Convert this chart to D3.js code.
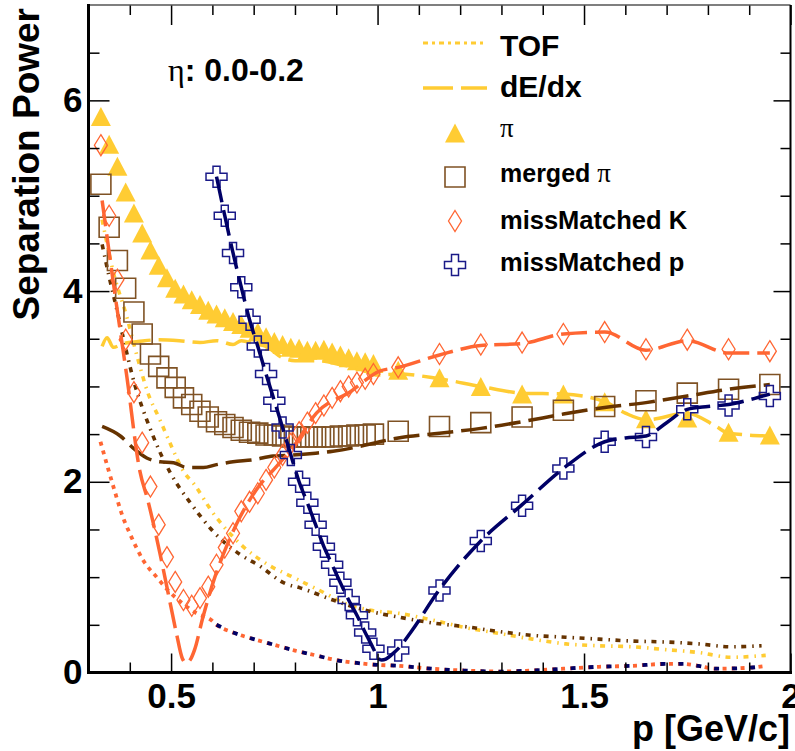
<!DOCTYPE html>
<html><head><meta charset="utf-8">
<script src="https://cdn.jsdelivr.net/npm/d3@7"></script>
<style>body{margin:0;background:#fff}svg{display:block}</style>
</head><body>
<svg id="c" width="795" height="751"></svg>
<script>
// ---------- data ----------
const xMajorTicks = [0.5, 1, 1.5, 2];
const xTickLabels = ["0.5", "1", "1.5", "2"];
const xMinorTicks = [0.4, 0.6, 0.7, 0.8, 0.9, 1.1, 1.2, 1.3, 1.4, 1.6, 1.7, 1.8, 1.9];
const yMajorTicks = [0, 2, 4, 6];
const yTickLabels = ["0", "2", "4", "6"];
const yMinorTicks = [0.5, 1, 1.5, 2.5, 3, 3.5, 4.5, 5, 5.5, 6.5];

// markers: [p, separation]
const piPts = [[0.33,5.83],[0.35,5.54],[0.37,5.31],[0.39,5.04],[0.41,4.82],[0.43,4.61],[0.45,4.43],[0.47,4.27],[0.49,4.14],[0.51,4.03],[0.53,3.97],[0.55,3.91],[0.57,3.86],[0.59,3.80],[0.61,3.76],[0.63,3.72],[0.65,3.68],[0.67,3.65],[0.69,3.61],[0.71,3.57],[0.73,3.52],[0.75,3.47],[0.77,3.44],[0.79,3.41],[0.81,3.40],[0.83,3.38],[0.85,3.38],[0.87,3.39],[0.89,3.36],[0.91,3.33],[0.93,3.30],[0.95,3.27],[0.97,3.26],[0.99,3.24],
  [1.05,3.17],[1.15,3.09],[1.25,3.00],[1.35,2.92],[1.45,2.92],[1.55,2.84],[1.65,2.66],[1.75,2.67],[1.85,2.52],[1.95,2.49]];
const mergedPiPts = [[0.33,5.12],[0.35,4.67],[0.37,4.32],[0.39,4.03],[0.41,3.78],[0.43,3.55],[0.45,3.34],[0.47,3.21],[0.49,3.09],[0.51,2.99],[0.53,2.88],[0.55,2.81],[0.57,2.74],[0.59,2.68],[0.61,2.63],[0.63,2.60],[0.65,2.57],[0.67,2.54],[0.69,2.52],[0.71,2.51],[0.73,2.49],[0.75,2.49],[0.77,2.48],[0.79,2.47],[0.81,2.47],[0.83,2.47],[0.85,2.47],[0.87,2.47],[0.89,2.47],[0.91,2.48],[0.93,2.48],[0.95,2.49],[0.97,2.49],[0.99,2.50],
  [1.05,2.53],[1.15,2.58],[1.25,2.62],[1.35,2.68],[1.45,2.75],[1.55,2.79],[1.65,2.85],[1.75,2.93],[1.85,2.97],[1.95,3.02]];
const mmKPts = [[0.33,5.53],[0.35,4.79],[0.37,4.12],[0.39,3.49],[0.41,2.94],[0.43,2.41],[0.45,1.95],[0.47,1.55],[0.49,1.21],[0.51,0.95],[0.53,0.76],[0.55,0.70],[0.57,0.78],[0.59,0.90],[0.61,1.13],[0.63,1.31],[0.65,1.46],[0.67,1.69],[0.69,1.79],[0.71,1.88],[0.73,2.02],[0.75,2.15],[0.77,2.28],[0.79,2.40],[0.81,2.52],[0.83,2.62],[0.85,2.72],[0.87,2.80],[0.89,2.88],[0.91,2.95],[0.93,3.00],[0.95,3.04],[0.97,3.08],[0.99,3.13],
  [1.05,3.20],[1.15,3.34],[1.25,3.44],[1.35,3.46],[1.45,3.55],[1.55,3.57],[1.65,3.39],[1.75,3.49],[1.85,3.39],[1.95,3.37]];
const mmPPts = [[0.61,5.20],[0.63,4.79],[0.65,4.40],[0.67,4.04],[0.69,3.70],[0.71,3.42],[0.73,3.13],[0.75,2.85],[0.77,2.57],[0.79,2.28],[0.81,2.00],[0.83,1.78],[0.85,1.55],[0.87,1.32],[0.89,1.13],[0.91,0.94],[0.93,0.76],[0.95,0.60],[0.97,0.42],[0.99,0.25],
  [1.05,0.23],[1.15,0.86],[1.25,1.38],[1.35,1.75],[1.45,2.14],[1.55,2.42],[1.65,2.47],[1.75,2.76],[1.85,2.80],[1.95,2.90]];

// lines: dE/dx (dashed)
const dedxPi = [[0.333,3.42],[0.345,3.51],[0.36,3.41],[0.385,3.45],[0.42,3.47],[0.47,3.49],[0.52,3.48],[0.57,3.46],[0.61,3.48],[0.65,3.44],[0.67,3.48],[0.70,3.45],[0.73,3.42],[0.77,3.30],[0.80,3.27],[0.85,3.27],[0.91,3.23],[0.96,3.18],[1.0,3.12],[1.05,3.13],[1.15,3.08],[1.25,3.00],[1.35,2.93],[1.45,2.92],[1.55,2.84],[1.60,2.72],[1.65,2.65],[1.75,2.72],[1.82,2.58],[1.85,2.51],[1.95,2.48]];
const dedxMergedPi = [[0.333,2.58],[0.377,2.48],[0.409,2.35],[0.441,2.25],[0.473,2.21],[0.506,2.20],[0.538,2.15],[0.578,2.15],[0.61,2.18],[0.65,2.21],[0.699,2.23],[0.747,2.27],[0.795,2.28],[0.85,2.30],[0.892,2.32],[0.956,2.37],[1.005,2.42],[1.05,2.46],[1.15,2.51],[1.25,2.56],[1.35,2.63],[1.45,2.71],[1.55,2.78],[1.65,2.83],[1.75,2.90],[1.85,2.97],[1.95,3.02]];
const dedxK = [[0.333,4.95],[0.363,4.0],[0.393,3.10],[0.424,2.12],[0.444,1.80],[0.473,1.25],[0.493,0.83],[0.513,0.41],[0.527,0.15],[0.537,0.10],[0.546,0.13],[0.557,0.24],[0.577,0.58],[0.606,1.00],[0.634,1.32],[0.667,1.63],[0.707,1.92],[0.755,2.16],[0.795,2.36],[0.852,2.72],[0.936,2.95],[1.005,3.16],[1.05,3.20],[1.15,3.33],[1.25,3.43],[1.35,3.45],[1.45,3.55],[1.55,3.57],[1.65,3.38],[1.75,3.48],[1.85,3.35],[1.95,3.35]];
const dedxP = [[0.61,5.20],[0.63,4.79],[0.65,4.40],[0.67,4.04],[0.69,3.70],[0.71,3.42],[0.73,3.13],[0.75,2.85],[0.77,2.57],[0.79,2.28],[0.81,2.00],[0.83,1.78],[0.85,1.55],[0.87,1.32],[0.89,1.13],[0.91,0.94],[0.93,0.76],[0.95,0.60],[0.97,0.42],[0.99,0.25],[1.0,0.16],[1.01,0.13],[1.02,0.14],[1.035,0.19],[1.05,0.25],[1.08,0.42],[1.15,0.87],[1.25,1.38],[1.35,1.76],[1.45,2.14],[1.55,2.42],[1.60,2.46],[1.65,2.48],[1.70,2.62],[1.75,2.76],[1.80,2.79],[1.85,2.81],[1.90,2.86],[1.95,2.92]];

// lines: TOF (dotted)
const tofPi = [[0.333,4.75],[0.36,4.20],[0.392,3.74],[0.42,3.28],[0.444,2.93],[0.473,2.65],[0.497,2.41],[0.533,2.09],[0.553,1.99],[0.602,1.67],[0.667,1.35],[0.731,1.14],[0.795,1.00],[0.86,0.86],[0.924,0.72],[0.988,0.65],[1.053,0.62],[1.133,0.55],[1.214,0.47],[1.294,0.41],[1.375,0.35],[1.456,0.30],[1.536,0.28],[1.616,0.27],[1.697,0.24],[1.777,0.21],[1.857,0.16],[1.94,0.18]];
const tofMergedPi = [[0.333,4.49],[0.35,4.15],[0.37,3.78],[0.39,3.40],[0.41,3.05],[0.43,2.78],[0.45,2.55],[0.47,2.34],[0.50,2.08],[0.55,1.76],[0.606,1.46],[0.67,1.23],[0.71,1.13],[0.778,0.93],[0.811,0.89],[0.892,0.76],[0.973,0.65],[1.053,0.58],[1.133,0.52],[1.214,0.48],[1.294,0.43],[1.374,0.39],[1.456,0.37],[1.536,0.35],[1.616,0.33],[1.697,0.32],[1.777,0.30],[1.857,0.27],[1.93,0.28]];
const tofK = [[0.329,2.42],[0.348,2.13],[0.365,1.88],[0.38,1.67],[0.404,1.42],[0.432,1.18],[0.465,1.00],[0.493,0.86],[0.529,0.72],[0.562,0.62],[0.597,0.55],[0.61,0.50],[0.65,0.42],[0.70,0.35],[0.75,0.29],[0.80,0.23],[0.85,0.18],[0.90,0.13],[0.95,0.10],[1.0,0.08],[1.05,0.07],[1.13,0.04],[1.21,0.02],[1.30,0.01],[1.37,0.02],[1.45,0.04],[1.536,0.06],[1.616,0.07],[1.697,0.09],[1.74,0.09],[1.777,0.07],[1.82,0.04],[1.90,0.05],[1.94,0.07]];
const tofP = [[0.61,0.50],[0.65,0.42],[0.70,0.35],[0.75,0.29],[0.80,0.23],[0.85,0.18],[0.90,0.13],[0.95,0.10],[1.0,0.08],[1.05,0.07],[1.13,0.04],[1.21,0.02],[1.30,0.01],[1.37,0.02],[1.45,0.04],[1.536,0.06],[1.616,0.07],[1.697,0.09],[1.74,0.09],[1.777,0.07],[1.82,0.04],[1.90,0.05],[1.94,0.07]];

const legendLabels = ["TOF", "dE/dx", "π", "merged π", "missMatched K", "missMatched p"];
const etaLabel = ["η", ": 0.0-0.2"];

// ---------- styles ----------
const C = {yellow:"#FFCC33", brown:"#663300", sqBrown:"#7f5224", orange:"#FF6633", navy:"#000066", crossNavy:"#1a1a88"};
const SANS = "'Liberation Sans', Arial, Helvetica, sans-serif";
const SERIF = "'Liberation Serif', 'DejaVu Serif', serif";
const DASH = "26,8", DOT = "5,6,1.5,5.5";

const svg = d3.select("#c");
const x = d3.scaleLinear().domain([0.3, 2.0]).range([88.5, 790.5]);
const y = d3.scaleLinear().domain([0, 7]).range([672.5, 5]);

const plot = svg.append("g");
svg.append("defs").append("clipPath").attr("id","clip").append("rect")
  .attr("x",88.5).attr("y",5).attr("width",702).attr("height",667.5);
plot.attr("clip-path","url(#clip)");

const line = d3.line().x(d=>x(d[0])).y(d=>y(d[1])).curve(d3.curveMonotoneX);
function drawLine(data, color, dash, w, offset){
  plot.append("path").datum(data).attr("d", line).attr("fill","none")
    .attr("stroke", color).attr("stroke-width", w).attr("stroke-dasharray", dash)
    .attr("stroke-dashoffset", offset || 0).attr("stroke-linecap","butt");
}

// marker shapes
const triPath = "M-10,9.5L10,9.5L0,-9.5Z";
const diaPath = "M0,-10.5L6.5,0L0,10.5L-6.5,0Z";
const crossPath = "M-3.5,-10.5H3.5V-3.5H10.5V3.5H3.5V10.5H-3.5V3.5H-10.5V-3.5H-3.5Z";
const sqPath = "M-10,-10H10V10H-10Z";

function drawMarkers(data, path, fill, stroke, sw){
  plot.append("g").selectAll("path").data(data).join("path")
    .attr("transform", d=>`translate(${x(d[0])},${y(d[1])})`)
    .attr("d", path).attr("fill", fill).attr("stroke", stroke).attr("stroke-width", sw);
}

// TOF lines
drawLine(tofPi, C.yellow, DOT, 3.6);
drawLine(tofMergedPi, C.brown, DOT, 3.6);
drawLine(tofK, C.orange, "4,5", 3.8);
drawLine(tofP, C.navy, "5,13", 3.8, 0);

// markers + dE/dx lines
drawMarkers(piPts, triPath, C.yellow, "none", 0);
drawLine(dedxPi, C.yellow, DASH, 3.5);
drawMarkers(mergedPiPts, sqPath, "none", C.sqBrown, 1.6);
drawLine(dedxMergedPi, C.brown, DASH, 3.5);
drawMarkers(mmKPts, diaPath, "none", C.orange, 1.3);
drawLine(dedxK, C.orange, DASH, 3.5);
drawMarkers(mmPPts, crossPath, "none", C.crossNavy, 1.5);
drawLine(dedxP, C.navy, DASH, 3.5);

// ---------- axes ----------
const fmtX = d => xTickLabels[xMajorTicks.indexOf(d)];
const fmtY = d => yTickLabels[yMajorTicks.indexOf(d)];
function styleAxis(g, fs){
  g.selectAll("text").attr("font-family", SANS).attr("font-weight","bold").attr("font-size", fs).attr("fill","#000");
  g.selectAll("line").attr("stroke","#000").attr("stroke-width",1.5);
}
const TF = 35;
const gb = svg.append("g").attr("transform","translate(0,672.5)");
gb.append("g").call(d3.axisBottom(x).tickValues(xMajorTicks).tickSize(-19).tickSizeOuter(0).tickPadding(11).tickFormat(fmtX)).call(g=>g.select(".domain").remove()).call(g=>styleAxis(g, TF));
gb.append("g").call(d3.axisBottom(x).tickValues(xMinorTicks).tickSize(-10).tickSizeOuter(0).tickFormat("")).call(g=>g.select(".domain").remove()).call(g=>styleAxis(g, TF));
const gt = svg.append("g").attr("transform","translate(0,5)");
gt.append("g").call(d3.axisTop(x).tickValues(xMajorTicks).tickSize(-20).tickSizeOuter(0).tickFormat("")).call(g=>g.select(".domain").remove()).call(g=>styleAxis(g, TF));
gt.append("g").call(d3.axisTop(x).tickValues(xMinorTicks).tickSize(-10).tickSizeOuter(0).tickFormat("")).call(g=>g.select(".domain").remove()).call(g=>styleAxis(g, TF));
const gl = svg.append("g").attr("transform","translate(88.5,0)");
gl.append("g").call(d3.axisLeft(y).tickValues(yMajorTicks).tickSize(-21).tickSizeOuter(0).tickPadding(6).tickFormat(fmtY)).call(g=>g.select(".domain").remove()).call(g=>styleAxis(g, TF));
gl.append("g").call(d3.axisLeft(y).tickValues(yMinorTicks).tickSize(-11).tickSizeOuter(0).tickFormat("")).call(g=>g.select(".domain").remove()).call(g=>styleAxis(g, TF));
const gr = svg.append("g").attr("transform","translate(790.5,0)");
gr.append("g").call(d3.axisRight(y).tickValues(yMajorTicks).tickSize(-17).tickSizeOuter(0).tickFormat("")).call(g=>g.select(".domain").remove()).call(g=>styleAxis(g, TF));
gr.append("g").call(d3.axisRight(y).tickValues(yMinorTicks).tickSize(-10).tickSizeOuter(0).tickFormat("")).call(g=>g.select(".domain").remove()).call(g=>styleAxis(g, TF));

// frame
svg.append("line").attr("x1",88.5).attr("x2",790.5).attr("y1",5).attr("y2",5).attr("stroke","#555").attr("stroke-width",1.5);
svg.append("line").attr("x1",790.5).attr("x2",790.5).attr("y1",5).attr("y2",672.5).attr("stroke","#000").attr("stroke-width",2);
svg.append("line").attr("x1",88.5).attr("x2",88.5).attr("y1",4).attr("y2",674).attr("stroke","#000").attr("stroke-width",3);
svg.append("line").attr("x1",87).attr("x2",792).attr("y1",672.5).attr("y2",672.5).attr("stroke","#000").attr("stroke-width",3);

// axis titles
svg.append("text").attr("x",790).attr("y",741).attr("text-anchor","end")
  .attr("font-family",SANS).attr("font-weight","bold").attr("font-size",36).text("p [GeV/c]");
svg.append("text").attr("transform","translate(39,8) rotate(-90)").attr("text-anchor","end")
  .attr("font-family",SANS).attr("font-weight","bold").attr("font-size",37).text("Separation Power");

// eta label
const et = svg.append("text").attr("x",168).attr("y",81).attr("font-size",32);
et.append("tspan").attr("font-family",SERIF).text(etaLabel[0]);
et.append("tspan").attr("font-family",SANS).attr("font-weight","bold").text(etaLabel[1]);

// ---------- legend ----------
const lg = svg.append("g");
lg.append("line").attr("x1",423).attr("x2",485).attr("y1",43).attr("y2",43).attr("stroke",C.yellow).attr("stroke-width",3).attr("stroke-dasharray","5,4,3,4");
lg.append("line").attr("x1",423).attr("x2",487).attr("y1",88).attr("y2",88).attr("stroke",C.yellow).attr("stroke-width",3.5).attr("stroke-dasharray","30,8");
lg.append("text").attr("x",500).attr("y",56).attr("font-family",SANS).attr("font-weight","bold").attr("font-size",30).text(legendLabels[0]);
lg.append("text").attr("x",500).attr("y",97).attr("font-family",SANS).attr("font-weight","bold").attr("font-size",30).text(legendLabels[1]);
lg.append("path").attr("transform","translate(455,133)").attr("d",triPath).attr("fill",C.yellow);
lg.append("text").attr("x",500).attr("y",137).attr("font-family",SERIF).attr("font-size",27).text(legendLabels[2]);
lg.append("path").attr("transform","translate(455,177)").attr("d",sqPath).attr("fill","none").attr("stroke",C.sqBrown).attr("stroke-width",1.6);
const mt = lg.append("text").attr("x",500).attr("y",182).attr("font-size",25);
mt.append("tspan").attr("font-family",SANS).attr("font-weight","bold").text(legendLabels[3].split(" ")[0] + " ");
mt.append("tspan").attr("font-family",SERIF).attr("font-size",27).text(legendLabels[3].split(" ")[1]);
lg.append("path").attr("transform","translate(455,221)").attr("d",diaPath).attr("fill","none").attr("stroke",C.orange).attr("stroke-width",1.3);
lg.append("text").attr("x",500).attr("y",229).attr("font-family",SANS).attr("font-weight","bold").attr("font-size",25.5).text(legendLabels[4]);
lg.append("path").attr("transform","translate(455,265)").attr("d",crossPath).attr("fill","none").attr("stroke",C.crossNavy).attr("stroke-width",1.5);
lg.append("text").attr("x",500).attr("y",271).attr("font-family",SANS).attr("font-weight","bold").attr("font-size",25.5).text(legendLabels[5]);
</script>
</body></html>
